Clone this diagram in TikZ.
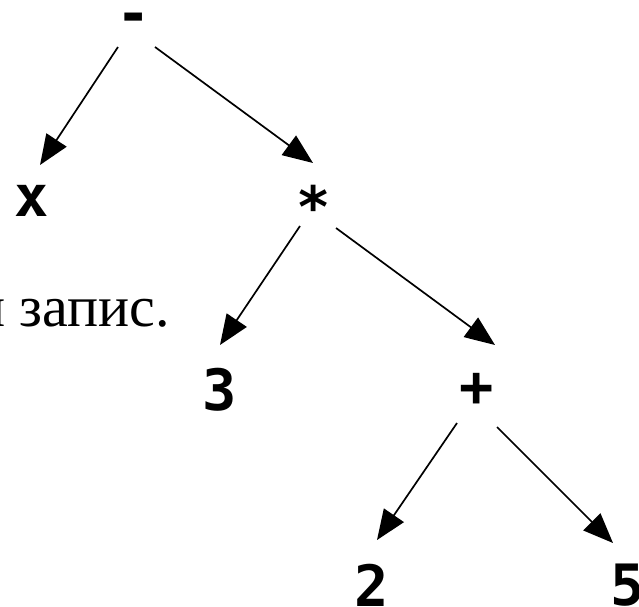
\documentclass[tikz,border=0pt]{standalone}
\usepackage{fontspec}
\setmainfont{Liberation Serif}
\newfontfamily\pixfont{DejaVu Sans Mono}
\usetikzlibrary{arrows.meta}

\begin{document}
\begin{tikzpicture}[x=1pt,y=-1pt,
    lbl/.style={inner sep=0pt, anchor=north, font={\pixfont\bfseries\fontsize{57pt}{57pt}\selectfont}},
    edge/.style={-{Triangle[length=30pt,width=24pt]}, line width=1.7pt}]
    \useasboundingbox (0,0) rectangle (639,606);
    \clip (0,0) rectangle (639,606);

    % text cut off on the left
    \node[anchor=base east, inner sep=0pt, font={\fontsize{58pt}{58pt}\selectfont}] (note) at (170,326) {и запис.};

    \node[lbl] (minus) at (134,13) {-};
    \node[lbl] (x) at (32,185) {x};
    \node[lbl] (mul) at (314,185) {*};
    \node[lbl] (three) at (220,368) {3};
    \node[lbl] (plus) at (477,373) {+};
    \node[lbl] (two) at (372,564) {2};
    \node[lbl] (five) at (628,564) {5};

    \draw[edge] ([shift={(-16,34)}]minus.north) -- ([shift={(8,-20)}]x.north);
    \draw[edge] ([shift={(21,34)}]minus.north) -- ([shift={(-1,-22)}]mul.north);
    \draw[edge] ([shift={(-14,41)}]mul.north) -- ([shift={(0,-23)}]three.north);
    \draw[edge] ([shift={(22,43)}]mul.north) -- ([shift={(18,-28)}]plus.north);
    \draw[edge] ([shift={(-20,50)}]plus.north) -- ([shift={(5,-24)}]two.north);
    \draw[edge] ([shift={(20,54)}]plus.north) -- ([shift={(-15,-21)}]five.north);
\end{tikzpicture}
\end{document}
